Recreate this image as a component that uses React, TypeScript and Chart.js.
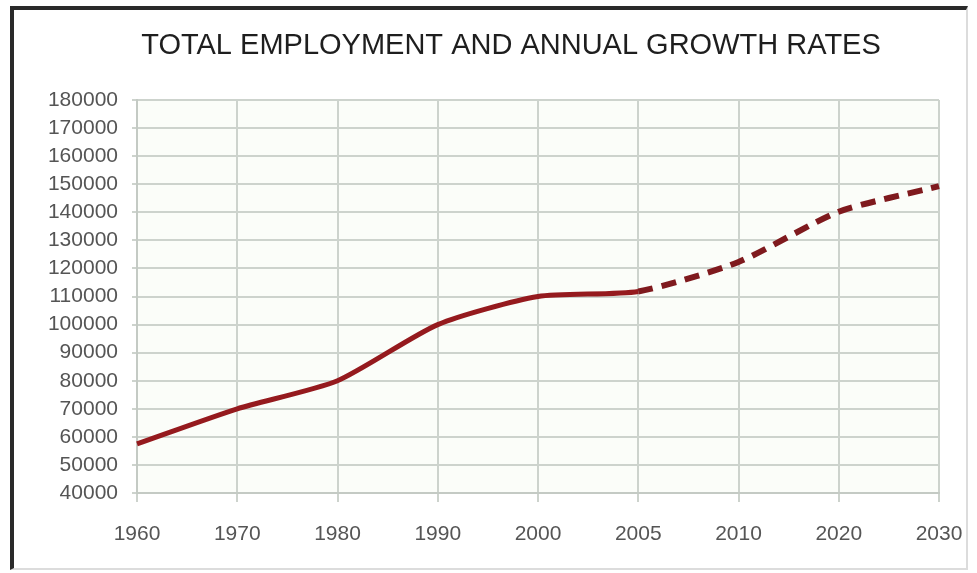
import React, { useEffect, useRef } from "react";
import { Chart, registerables } from "chart.js";

Chart.register(...registerables);

const years = ["1960", "1970", "1980", "1990", "2000", "2005", "2010", "2020", "2030"];
const employment = [57500, 70000, 80000, 100000, 110000, 111800, 122300, 140200, 149300];
const titleText = "TOTAL EMPLOYMENT AND ANNUAL GROWTH RATES";
const yMin = 40000;
const yMax = 180000;
const yStep = 10000;
const dashFromIndex = 5;

const FONT = "'Liberation Sans', Arial, sans-serif";

const plotBg = {
  id: "plotBg",
  beforeDraw(chart: any) {
    const { ctx, chartArea } = chart;
    ctx.save();
    ctx.fillStyle = "#fbfdf9";
    ctx.fillRect(chartArea.left, chartArea.top, chartArea.right - chartArea.left, chartArea.bottom - chartArea.top);
    ctx.restore();
  },
};

const titlePlugin = {
  id: "customTitle",
  afterDraw(chart: any) {
    const { ctx } = chart;
    ctx.save();
    ctx.fillStyle = "#1e1e1e";
    ctx.font = `normal 29px ${FONT}`;
    ctx.textAlign = "center";
    ctx.textBaseline = "middle";
    ctx.fillText(titleText, 511, 46);
    ctx.restore();
  },
};

export default function App() {
  const ref = useRef<HTMLCanvasElement | null>(null);
  useEffect(() => {
    if (!ref.current) return;
    const gridColor = "#cdd3cd";
    const chart = new Chart(ref.current, {
      type: "line",
      data: {
        labels: years,
        datasets: [
          {
            data: employment,
            borderColor: "#951a1e",
            borderWidth: 5,
            pointRadius: 0,
            tension: 0.22,
            fill: false,
            segment: {
              borderDash: (c: any) => (c.p0DataIndex >= dashFromIndex ? [15, 9] : undefined),
              borderColor: (c: any) => (c.p0DataIndex >= dashFromIndex ? "#7f1a1e" : undefined),
              borderWidth: (c: any) => (c.p0DataIndex >= dashFromIndex ? 6 : undefined),
            },
          },
        ],
      },
      plugins: [plotBg, titlePlugin],
      options: {
        animation: false,
        responsive: false,
        maintainAspectRatio: false,
        layout: { padding: { left: 0, right: 38, top: 100, bottom: 0 } },
        plugins: {
          legend: { display: false },
          tooltip: { enabled: false },
          title: { display: false },
        },
        scales: {
          x: {
            type: "category",
            offset: false,
            afterFit: (s: any) => {
              s.height = 80;
              s.paddingLeft = 0;
              s.paddingRight = 0;
            },
            grid: { color: gridColor, lineWidth: 2, tickLength: 9, drawTicks: true },
            border: { color: "#c4cac4", width: 2 },
            ticks: {
              color: "#555",
              font: { family: FONT, size: 21 },
              padding: 20,
              maxRotation: 0,
              autoSkip: false,
            },
          },
          y: {
            min: yMin,
            max: yMax,
            afterFit: (s: any) => {
              s.width = 137;
            },
            grid: { color: gridColor, lineWidth: 2, tickLength: 5 },
            border: { color: "#c4cac4", width: 2 },
            ticks: {
              stepSize: yStep,
              color: "#555",
              font: { family: FONT, size: 21 },
              padding: 14,
              autoSkip: false,
              callback: (v: any) => String(v),
            },
          },
        },
      },
    } as any);
    return () => chart.destroy();
  }, []);

  return (
    <div style={{ position: "fixed", left: 0, top: 0, width: 977, height: 573, background: "#fff", overflow: "hidden" }}>
      <div
        style={{
          position: "absolute",
          left: 10,
          top: 6,
          width: 958,
          height: 564,
          borderLeft: "4px solid #2a2a2a",
          borderTop: "4px solid #2a2a2a",
          borderRight: "2px solid #dcdcdc",
          borderBottom: "2px solid #dcdcdc",
          boxSizing: "border-box",
        }}
      />
      <canvas ref={ref} width={977} height={573} style={{ position: "absolute", left: 0, top: 0 }} />
    </div>
  );
}
